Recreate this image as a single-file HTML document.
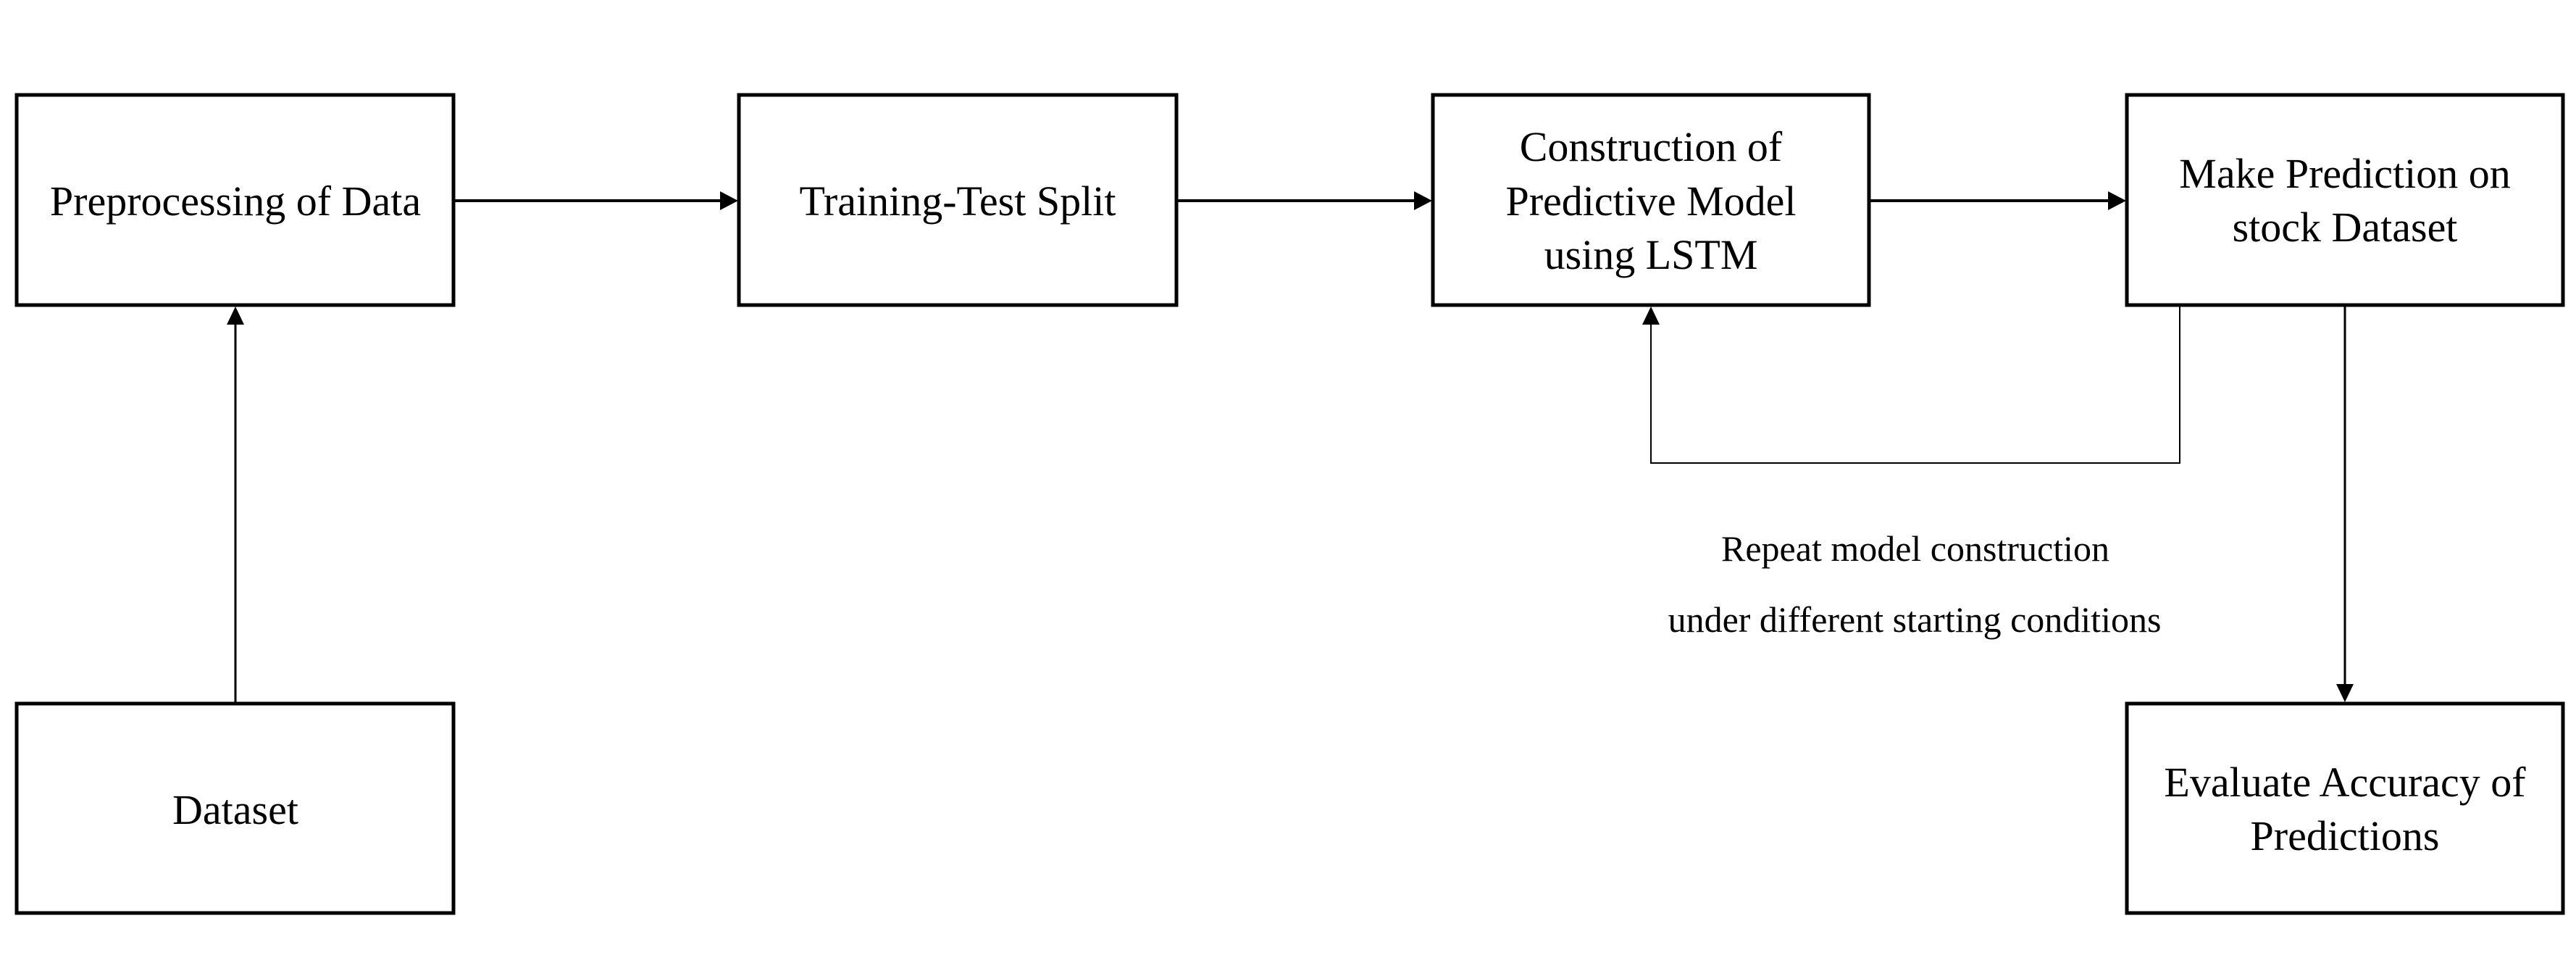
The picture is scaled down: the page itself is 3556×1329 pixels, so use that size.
<!DOCTYPE html>
<html><head><meta charset="utf-8"><style>html,body{margin:0;padding:0;background:#fff}svg{display:block}</style></head>
<body>
<svg width="3556" height="1329" viewBox="0 0 3556 1329" xmlns="http://www.w3.org/2000/svg">
<g fill="none" stroke="#000" stroke-width="5">
<rect x="23" y="131" width="603" height="290"/>
<rect x="1020" y="131" width="604" height="290"/>
<rect x="1978" y="131" width="602" height="290"/>
<rect x="2936" y="131" width="602" height="290"/>
<rect x="23" y="971" width="603" height="289"/>
<rect x="2936" y="971" width="602" height="289"/>
</g>
<g stroke="#000" fill="#000">
<line x1="628" y1="277" x2="996" y2="277" stroke-width="4"/>
<path d="M994,264 L1019,277 L994,290 Z" stroke="none"/>
<line x1="1626" y1="277" x2="1954" y2="277" stroke-width="4"/>
<path d="M1952,264 L1977,277 L1952,290 Z" stroke="none"/>
<line x1="2582" y1="277" x2="2912" y2="277" stroke-width="4"/>
<path d="M2910,264 L2935,277 L2910,290 Z" stroke="none"/>
<line x1="325" y1="969" x2="325" y2="445" stroke-width="3"/>
<path d="M313,448 L325,423 L337,448 Z" stroke="none"/>
<line x1="3237" y1="423" x2="3237" y2="947" stroke-width="3"/>
<path d="M3225,944 L3237,969 L3249,944 Z" stroke="none"/>
<polyline points="3009,423 3009,639 2279,639 2279,445" fill="none" stroke-width="2"/>
<path d="M2267,448 L2279,423 L2291,448 Z" stroke="none"/>
</g>
<g font-family="'Liberation Serif', serif" font-size="58" text-anchor="middle" fill="#000">
<text x="325" y="297">Preprocessing of Data</text>
<text x="1322" y="297">Training-Test Split</text>
<text x="2279" y="222">Construction of</text>
<text x="2279" y="297">Predictive Model</text>
<text x="2279" y="371">using LSTM</text>
<text x="3237" y="259">Make Prediction on</text>
<text x="3237" y="333">stock Dataset</text>
<text x="325" y="1137">Dataset</text>
<text x="3237" y="1099">Evaluate Accuracy of</text>
<text x="3237" y="1173">Predictions</text>
</g>
<g font-family="'Liberation Serif', serif" font-size="50" text-anchor="middle" fill="#000">
<text x="2644" y="774">Repeat model construction</text>
<text x="2643" y="872">under different starting conditions</text>
</g>
</svg>
</body></html>
